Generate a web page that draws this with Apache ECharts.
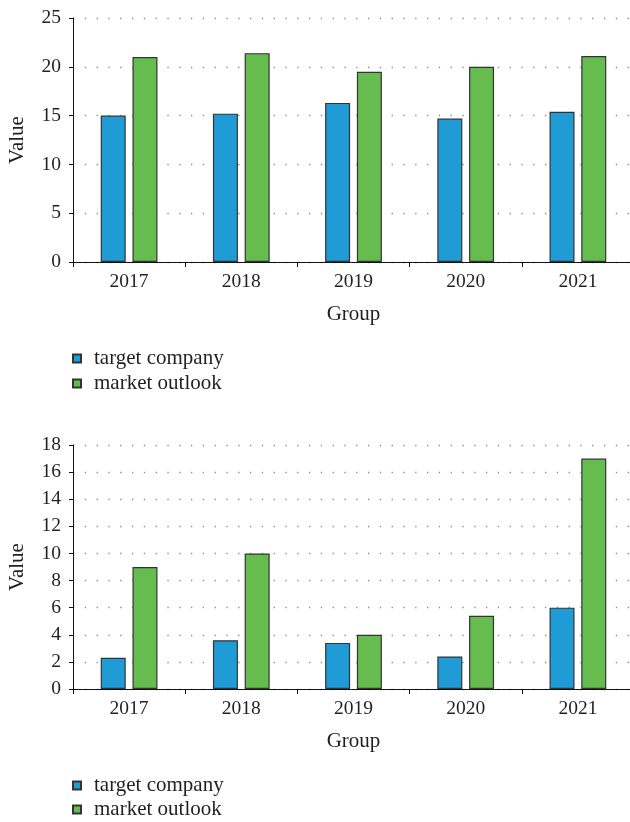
<!DOCTYPE html>
<html>
<head>
<meta charset="utf-8">
<script src="https://cdn.jsdelivr.net/npm/echarts@6/dist/echarts.min.js"></script>
<style>
  html, body { margin: 0; padding: 0; background: #fff; }
  #chart { width: 630px; height: 822px; }
</style>
</head>
<body>
<div id="chart"></div>
<script>
// Years on the category axis (shared by both panels)
const years = ['2017', '2018', '2019', '2020', '2021'];
const seriesNames = ['target company', 'market outlook'];

// Upper panel values
const topTarget = [15.0, 15.2, 16.3, 14.7, 15.4];
const topMarket = [21.0, 21.4, 19.5, 20.0, 21.1];

// Lower panel values
const bottomTarget = [2.3, 3.6, 3.4, 2.4, 6.0];
const bottomMarket = [9.0, 10.0, 4.0, 5.4, 17.0];

// Value-axis ranges
const topAxis = { min: 0, max: 25, interval: 5 };
const bottomAxis = { min: 0, max: 18, interval: 2 };

const FONT = '"Liberation Serif", "DejaVu Serif", serif';
const TEXT = '#231f20';
const BLUE = '#1f9bd6';
const GREEN = '#66bc4f';

const chart = echarts.init(document.getElementById('chart'), null, { renderer: 'canvas' });

const tickText = { fontFamily: FONT, fontSize: 19.5, color: TEXT };
const nameText = { fontFamily: FONT, fontSize: 21, color: TEXT };

function xAxisFor(gridIndex) {
  return {
    type: 'category',
    gridIndex,
    data: years,
    name: 'Group',
    nameLocation: 'middle',
    nameGap: 42,
    nameTextStyle: nameText,
    axisLine: { lineStyle: { color: '#111', width: 1 } },
    axisTick: { show: true, length: 5, lineStyle: { color: '#111' } },
    axisLabel: Object.assign({ margin: 10 }, tickText),
    splitLine: { show: false }
  };
}

function yAxisFor(gridIndex, range) {
  return {
    type: 'value',
    gridIndex,
    min: range.min,
    max: range.max,
    interval: range.interval,
    name: 'Value',
    nameLocation: 'middle',
    nameGap: 45,
    nameRotate: 90,
    nameTextStyle: nameText,
    axisLine: { show: true, lineStyle: { color: '#111', width: 1 } },
    axisTick: { show: true, length: 4, lineStyle: { color: '#111' } },
    axisLabel: Object.assign({ margin: 12 }, tickText),
    splitLine: { show: true, lineStyle: { color: '#8a8a8a', width: 1.3, type: [1.3, 10.5] } }
  };
}

function barSeries(name, data, color, axisIndex) {
  return {
    type: 'bar',
    name,
    data,
    xAxisIndex: axisIndex,
    yAxisIndex: axisIndex,
    barWidth: 25,
    barGap: '27%',
    itemStyle: { color, borderColor: '#333', borderWidth: 1.2 },
    emphasis: { disabled: true }
  };
}

// One legend entry per block so each list stacks vertically at a fixed spot
function legendItem(name, top) {
  return {
    left: 72,
    top,
    padding: 0,
    icon: 'rect',
    itemWidth: 8,
    itemHeight: 8,
    selectedMode: false,
    data: [name],
    textStyle: { fontFamily: FONT, fontSize: 21, color: TEXT, padding: [0, 0, 0, 8] }
  };
}

chart.setOption({
  animation: false,
  backgroundColor: '#fff',
  grid: [
    { left: 73, width: 561, top: 18, height: 244, outerBoundsMode: 'none' },
    { left: 73, width: 561, top: 445, height: 244, outerBoundsMode: 'none' }
  ],
  xAxis: [xAxisFor(0), xAxisFor(1)],
  yAxis: [yAxisFor(0, topAxis), yAxisFor(1, bottomAxis)],
  legend: [
    legendItem(seriesNames[0], 348),
    legendItem(seriesNames[1], 373),
    legendItem(seriesNames[0], 775),
    legendItem(seriesNames[1], 799)
  ],
  series: [
    barSeries(seriesNames[0], topTarget, BLUE, 0),
    barSeries(seriesNames[1], topMarket, GREEN, 0),
    barSeries(seriesNames[0], bottomTarget, BLUE, 1),
    barSeries(seriesNames[1], bottomMarket, GREEN, 1)
  ]
});
</script>
</body>
</html>
